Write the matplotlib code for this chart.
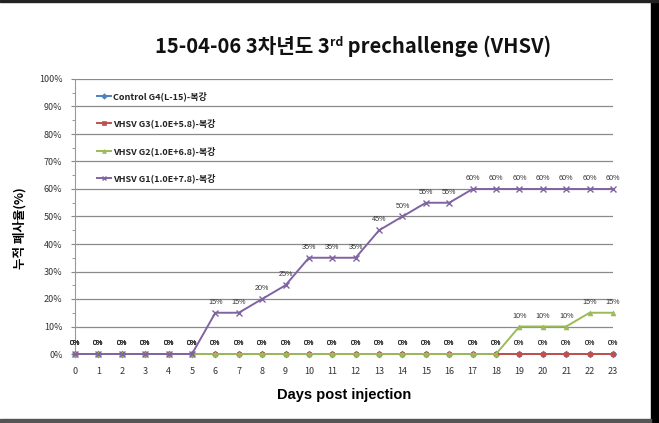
import matplotlib
matplotlib.use('Agg')
import matplotlib.pyplot as plt
from matplotlib.patches import Rectangle
import numpy as np

plt.rcParams['font.family'] = ['Noto Sans CJK KR', 'DejaVu Sans']

days = list(range(24))
control = [0] * 24
g3 = [0] * 24
g2 = [0] * 19 + [10, 10, 10, 15, 15]
g1 = [0, 0, 0, 0, 0, 0, 15, 15, 20, 25, 35, 35, 35, 45, 50, 55, 55,
      60, 60, 60, 60, 60, 60, 60]

names = ['Control G4(L-15)-복강', 'VHSV G3(1.0E+5.8)-복강',
         'VHSV G2(1.0E+6.8)-복강', 'VHSV G1(1.0E+7.8)-복강']
colors = ['#4F81BD', '#C0504D', '#9BBB59', '#8064A2']
markers = ['D', 's', '^', 'x']

fig = plt.figure(figsize=(6.59, 4.23), dpi=100)
ax = fig.add_axes([75/659, 1-354/423, (613-75)/659, (354-79)/423])

series = [control, g3, g2, g1]
for vals, nm, c, m in zip(series, names, colors, markers):
    ax.plot(days, vals, color=c, marker=m, markersize=3.5 if m != 'x' else 4,
            markeredgewidth=1 if m == 'x' else 0.5, lw=1.4, label=nm,
            clip_on=False, zorder=3)

# data labels
for vals in series:
    for d, v in zip(days, vals):
        ax.annotate('%d%%' % v, (d, v), xytext=(0, 5), textcoords='offset points',
                    ha='center', va='bottom', fontsize=5.2, color='#333333',
                    family=['Liberation Sans', 'DejaVu Sans'])

ax.set_xlim(0, 23)
ax.set_ylim(0, 100)
ax.set_yticks(np.arange(0, 101, 10))
ax.set_yticks(np.arange(5, 100, 10), minor=True)
ax.set_yticklabels(['%d%%' % t for t in range(0, 101, 10)], fontsize=6.5, color='#333333')
ax.set_xticks(days)
ax.set_xticklabels([str(d) for d in days], fontsize=6.5, color='#333333')
ax.tick_params(axis='x', length=0, pad=9)
ax.tick_params(axis='y', which='major', length=3, color='#888888', pad=6)
ax.tick_params(axis='y', which='minor', length=2, color='#888888')
ax.grid(axis='y', color='#8a8a8a', lw=0.9)
for s in ['top', 'right', 'bottom']:
    ax.spines[s].set_visible(False)
ax.spines['left'].set_color('#999999')
ax.set_axisbelow(True)

leg = ax.legend(loc='upper left', bbox_to_anchor=(0.025, 0.985), frameon=False,
                fontsize=6.5, labelspacing=1.95, handlelength=1.6, handletextpad=0.2,
                markerscale=0.8)
for t in leg.get_texts():
    t.set_color('#222222')
    t.set_fontweight('bold')

ax.set_xlabel('Days post injection', fontsize=10.5, fontweight='bold',
              family=['Liberation Sans', 'DejaVu Sans'], labelpad=9)
fig.text(20/659, 1-228/423, '누적 폐사율(%)', rotation=90, ha='center', va='center',
         fontsize=9, fontweight='bold')

# title in pieces for the superscript
fig.canvas.draw()
r = fig.canvas.get_renderer()
parts = [('15-04-06 3차년도 3', 14.5, 0), ('rd', 8.8, 7), (' prechallenge (VHSV)', 14.5, 0)]
texts = []
for s, fs, dy in parts:
    texts.append(fig.text(0, 0, s, fontsize=fs, va='baseline', ha='left',
                          fontweight='bold', color='#111111'))
widths = [t.get_window_extent(r).width for t in texts]
x = 353 - sum(widths) / 2
base = 423 - 53
for t, w, (s, fs, dy) in zip(texts, widths, parts):
    t.set_position((x / 659, (base + dy) / 423))
    x += w

# picture frame edges
fig.patches.append(Rectangle((651/659, 0), 8/659, 1, transform=fig.transFigure,
                             color='black', zorder=10))
fig.patches.append(Rectangle((0, 0), 651/659, 4/423, transform=fig.transFigure,
                             color='#555555', zorder=10))
fig.patches.append(Rectangle((0, 1-2/423), 1, 2/423, transform=fig.transFigure,
                             color='#222222', zorder=10))

fig.savefig('out.png', dpi=100)
